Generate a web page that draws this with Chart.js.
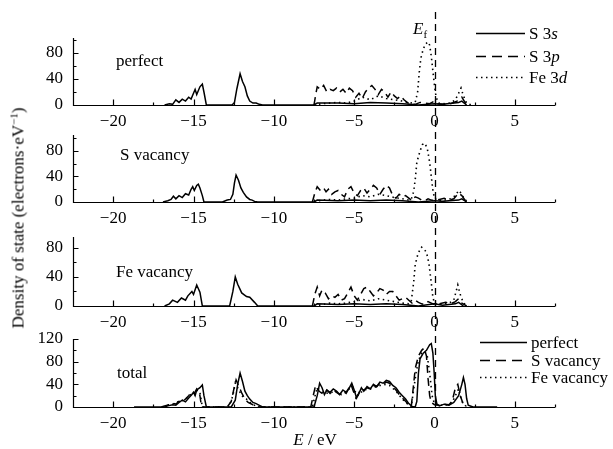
<!DOCTYPE html>
<html lang="en">
<head>
<meta charset="UTF-8">
<title>Density of states</title>
<script src="https://cdn.jsdelivr.net/npm/chart.js@4.4.1/dist/chart.umd.min.js"></script>
<style>
  body { margin: 0; background: #fff; }
  .wrap { position: relative; width: 613px; height: 449px; font-family: 'Liberation Serif', 'Times New Roman', serif; color: #000; }
  .wrap canvas { position: absolute; left: 0; top: 0; }
  .txt { position: absolute; font-size: 17px; line-height: 1; white-space: nowrap; transform: translateY(-50%); }
  .leg { position: absolute; display: flex; align-items: center; font-size: 17px; line-height: 1; white-space: nowrap; transform: translateY(-50%); }
  .leg svg { margin-right: 3px; }
  .ytitle { position: absolute; left: 18px; top: 218px; font-size: 17px; font-weight: normal; white-space: nowrap; transform: translate(-50%, -50%) rotate(-90deg); }
  .xtitle { position: absolute; left: 315px; top: 440px; font-size: 17px; white-space: nowrap; transform: translate(-50%, -50%); }
  sub { font-size: 11px; vertical-align: -4px; }
  sup { font-size: 11px; vertical-align: 6px; }
</style>
</head>
<body>
<div class="wrap">
  <canvas id="p1" width="613" height="449"></canvas>
  <canvas id="p2" width="613" height="449"></canvas>
  <canvas id="p3" width="613" height="449"></canvas>
  <canvas id="p4" width="613" height="449"></canvas>

  <div class="txt" style="left:116px;top:60px">perfect</div>
  <div class="txt" style="left:120px;top:154px">S vacancy</div>
  <div class="txt" style="left:116px;top:271px">Fe vacancy</div>
  <div class="txt" style="left:117px;top:372px">total</div>
  <div class="txt" style="left:413px;top:30px"><i>E</i><sub>f</sub></div>

  <div class="leg" style="left:476px;top:33px"><svg width="50" height="4"><line x1="0" y1="2" x2="49" y2="2" stroke="#000" stroke-width="1.5"/></svg>S 3<i>s</i></div>
  <div class="leg" style="left:476px;top:56px"><svg width="50" height="4"><line x1="0" y1="2" x2="49" y2="2" stroke="#000" stroke-width="1.5" stroke-dasharray="10 6"/></svg>S 3<i>p</i></div>
  <div class="leg" style="left:476px;top:77px"><svg width="50" height="4"><line x1="0" y1="2" x2="49" y2="2" stroke="#000" stroke-width="1.6" stroke-dasharray="1.5 3.5"/></svg>Fe 3<i>d</i></div>

  <div class="leg" style="left:480px;top:342px"><svg width="48" height="4"><line x1="0" y1="2" x2="47" y2="2" stroke="#000" stroke-width="1.5"/></svg>perfect</div>
  <div class="leg" style="left:480px;top:360px"><svg width="48" height="4"><line x1="0" y1="2" x2="47" y2="2" stroke="#000" stroke-width="1.5" stroke-dasharray="10 6"/></svg>S vacancy</div>
  <div class="leg" style="left:480px;top:377px"><svg width="48" height="4"><line x1="0" y1="2" x2="47" y2="2" stroke="#000" stroke-width="1.6" stroke-dasharray="1.5 3.5"/></svg>Fe vacancy</div>

  <div class="ytitle">Density of state (electrons·eV<sup>−1</sup>)</div>
  <div class="xtitle"><i>E</i> / eV</div>
</div>

<script>
// tick labels
const xTicks = [-20, -15, -10, -5, 0, 5];
const xMinorTicks = [-22.5, -17.5, -12.5, -7.5, -2.5, 2.5, 7.5];
const yTicks = [0, 40, 80];
const yTicksTotal = [0, 40, 80, 120];
const yMinorTicks = [20, 60, 100];

// perfect
const pfS3sE = [-16.8,-16.5,-16.3,-16.1,-15.9,-15.7,-15.5,-15.3,-15.15,-15.0,-14.9,-14.8,-14.6,-14.45,-14.35,-14.2,-12.6,-12.45,-12.3,-12.1,-11.95,-11.8,-11.65,-11.5,-11.3,-11.1,-10.9,-10.7,-7.5,-7.3,-6.0,-5.0,-4.0,-3.0,-2.0,-1.5,-1.0,0,0.5,1.5,1.7,2.0];
const pfS3s  = [0,2,1,8,4,9,6,12,9,18,24,16,28,32,20,0,0,4,25,48,36,28,14,6,3,3,1,0,0,3,3,2,4,3,2,1,0,2,1,4,6,0];
const pfS3pE = [-7.5,-7.4,-7.3,-7.1,-6.9,-6.7,-6.5,-6.3,-6.1,-5.9,-5.7,-5.5,-5.3,-5.1,-4.9,-4.7,-4.5,-4.3,-4.1,-3.9,-3.7,-3.5,-3.3,-3.1,-2.9,-2.7,-2.5,-2.3,-2.1,-1.9,-1.7,-1.5,-1.2,-0.9,-0.6,-0.3,0,0.2,0.6,1.0,1.4,1.7,1.9,2.1];
const pfS3p  = [0,15,28,24,30,20,24,22,26,20,24,18,26,22,12,18,10,20,26,30,24,16,24,20,12,20,14,10,14,8,4,1,1,4,3,2,6,2,1,2,6,12,4,0];
const pfFe3dE = [-7.5,-7.0,-6.5,-6.0,-5.5,-5.0,-4.5,-4.0,-3.5,-3.0,-2.5,-2.0,-1.5,-1.2,-1.05,-0.95,-0.85,-0.7,-0.55,-0.4,-0.3,-0.2,-0.1,0,0.1,0.25,0.6,1.0,1.3,1.5,1.65,1.8,2.0,2.3];
const pfFe3d  = [0,2,3,4,3,6,12,8,14,10,8,6,3,4,20,50,72,86,94,97,92,75,52,30,12,3,2,3,8,18,26,14,3,0];

// S vacancy
const svS3sE = [-16.9,-16.6,-16.4,-16.25,-16.1,-15.9,-15.7,-15.5,-15.3,-15.15,-15.05,-14.95,-14.8,-14.7,-14.6,-14.45,-14.35,-13.2,-12.9,-12.7,-12.55,-12.45,-12.35,-12.2,-12.05,-11.9,-11.7,-11.5,-11.35,-11.2,-11.0,-7.5,-7.3,-6.0,-5.0,-4.0,-3.0,-2.0,-1.0,0,0.5,1.5,1.7,2.0];
const svS3s  = [0,2,4,9,5,10,7,13,11,20,24,18,26,28,22,10,0,0,3,4,12,30,42,34,22,15,8,4,3,1,0,0,3,2,3,2,3,2,0,2,1,3,5,0];
const svS3pE = [-7.6,-7.45,-7.3,-7.1,-6.9,-6.75,-6.6,-6.4,-6.2,-6.0,-5.8,-5.6,-5.4,-5.2,-5.0,-4.8,-4.6,-4.4,-4.2,-4.0,-3.8,-3.6,-3.4,-3.2,-3.0,-2.8,-2.6,-2.4,-2.2,-2.0,-1.8,-1.6,-1.4,-1.2,-1.0,-0.8,-0.6,-0.4,-0.2,0,0.3,0.6,0.9,1.2,1.5,1.7,1.9,2.2];
const svS3p  = [0,14,24,18,22,16,20,12,16,18,12,8,20,24,14,10,18,22,14,20,26,22,12,20,26,22,10,6,12,8,10,6,2,8,6,3,2,5,3,2,4,6,3,5,14,10,3,0];
const svFe3dE = [-7.5,-7.0,-6.5,-6.0,-5.5,-5.0,-4.5,-4.0,-3.5,-3.0,-2.5,-2.0,-1.6,-1.45,-1.3,-1.2,-1.1,-0.9,-0.75,-0.6,-0.45,-0.3,-0.2,-0.1,0,0.2,0.6,1.0,1.3,1.5,1.65,1.9,2.2];
const svFe3d  = [0,3,4,3,5,6,10,8,12,10,7,5,3,4,16,35,62,80,90,92,84,62,40,18,6,2,3,5,10,18,14,3,0];

// Fe vacancy
const fvS3sE = [-16.8,-16.5,-16.3,-16.0,-15.75,-15.5,-15.35,-15.1,-15.0,-14.8,-14.6,-14.45,-12.75,-12.55,-12.4,-12.25,-12.0,-11.7,-11.5,-11.2,-11.0,-7.5,-7.3,-6.0,-5.0,-4.0,-3.0,-2.0,-1.0,0,0.5,1.3,1.5,1.8];
const fvS3s  = [0,3,8,5,11,8,14,20,16,29,19,0,0,20,40,30,18,13,12,5,0,0,3,2,3,2,3,2,0,3,1,3,5,0];
const fvS3pE = [-7.6,-7.45,-7.3,-7.15,-7.0,-6.8,-6.6,-6.4,-6.2,-6.0,-5.8,-5.6,-5.4,-5.2,-5.0,-4.8,-4.6,-4.4,-4.2,-4.0,-3.8,-3.6,-3.4,-3.2,-3.0,-2.8,-2.6,-2.4,-2.2,-2.0,-1.8,-1.6,-1.4,-1.2,-1.0,-0.8,-0.6,-0.4,-0.2,0,0.3,0.7,1.0,1.3,1.5,1.7,2.0];
const fvS3p  = [0,16,26,14,22,18,10,14,12,16,8,10,18,26,14,8,16,24,26,20,14,18,24,22,16,20,20,14,8,10,12,8,4,8,5,3,2,6,4,2,3,5,3,6,10,4,0];
const fvFe3dE = [-7.5,-7.0,-6.5,-6.0,-5.5,-5.0,-4.5,-4.0,-3.5,-3.0,-2.5,-2.0,-1.6,-1.45,-1.3,-1.2,-1.05,-0.9,-0.8,-0.65,-0.5,-0.35,-0.2,-0.1,0,0.2,0.6,1.0,1.2,1.45,1.6,1.8,2.1];
const fvFe3d  = [0,2,4,3,4,6,9,7,10,8,6,4,3,6,32,57,70,78,81,78,74,59,32,12,4,2,3,5,8,29,16,4,0];

// total
const totPerfE = [-18.7,-16.8,-16.6,-16.3,-16.1,-15.9,-15.7,-15.5,-15.3,-15.1,-15.0,-14.9,-14.8,-14.6,-14.45,-14.35,-14.2,-12.65,-12.4,-12.25,-12.1,-11.95,-11.8,-11.65,-11.5,-11.3,-11.1,-10.9,-10.7,-7.5,-7.3,-7.15,-7.0,-6.85,-6.7,-6.5,-6.3,-6.1,-5.9,-5.7,-5.5,-5.3,-5.15,-5.0,-4.85,-4.7,-4.55,-4.4,-4.2,-4.0,-3.8,-3.6,-3.4,-3.2,-3.0,-2.8,-2.6,-2.4,-2.2,-2.0,-1.8,-1.6,-1.4,-1.2,-1.1,-1.0,-0.9,-0.7,-0.5,-0.3,-0.2,-0.1,-0.02,0.05,0.15,0.3,0.6,0.9,1.2,1.5,1.7,1.8,1.9,2.0,2.1,2.4,3.9];
const totPerf  = [0,0,2,4,3,8,12,9,16,22,26,20,30,34,39,20,0,0,12,40,60,45,28,20,14,8,6,3,0,0,20,42,34,22,30,26,32,28,22,30,26,34,42,30,16,24,34,28,36,32,40,36,44,42,47,45,38,34,26,20,14,6,1,0,10,60,85,95,100,110,112,95,60,20,5,2,5,3,8,20,40,52,40,15,3,0,0];
const totSvE = [-17.0,-16.8,-16.5,-16.3,-16.1,-15.9,-15.7,-15.5,-15.3,-15.1,-14.95,-14.8,-14.7,-14.6,-14.5,-12.9,-12.65,-12.5,-12.35,-12.2,-12.0,-11.8,-11.6,-11.3,-11.0,-7.7,-7.55,-7.4,-7.25,-7.1,-6.9,-6.7,-6.5,-6.3,-6.1,-5.9,-5.7,-5.5,-5.35,-5.2,-5.05,-4.9,-4.75,-4.6,-4.4,-4.2,-4.0,-3.8,-3.6,-3.4,-3.2,-3.0,-2.8,-2.6,-2.4,-2.2,-2.0,-1.8,-1.6,-1.45,-1.3,-1.2,-1.0,-0.8,-0.65,-0.5,-0.4,-0.3,-0.2,0,0.3,0.6,0.9,1.1,1.3,1.45,1.6,1.8,2.0];
const totSv  = [0,2,4,7,5,10,8,14,20,27,24,32,28,20,0,0,10,30,48,38,25,14,8,4,0,0,20,38,30,26,22,30,24,30,26,22,28,24,32,40,28,16,22,32,30,34,32,38,36,42,40,44,42,36,30,22,16,10,4,0,40,68,90,100,104,90,50,20,8,4,3,5,4,10,34,40,20,4,0];
const totFvE = [-16.9,-16.5,-16.2,-15.9,-15.6,-15.3,-15.1,-14.9,-14.75,-14.6,-14.45,-12.8,-12.55,-12.4,-12.25,-12.0,-11.7,-11.4,-11.0,-7.6,-7.45,-7.3,-7.0,-6.6,-6.2,-5.8,-5.4,-5.1,-4.8,-4.4,-4.0,-3.6,-3.2,-2.8,-2.4,-2.0,-1.7,-1.45,-1.3,-1.15,-1.0,-0.8,-0.6,-0.45,-0.3,-0.15,0,0.4,0.8,1.1,1.3,1.5,1.7,2.0];
const totFv  = [0,4,6,10,12,18,24,22,30,26,0,0,20,42,34,20,14,6,0,0,18,34,26,24,28,22,30,36,20,30,32,36,40,38,28,14,6,0,30,60,82,95,98,90,60,20,5,3,4,8,20,32,10,0];

const FONT = "'Liberation Serif', 'Times New Roman', serif";
const SOLID = { borderWidth: 1.5, borderDash: [] };
const DASHED = { borderWidth: 1.5, borderDash: [8, 5] };
const DOTTED = { borderWidth: 1.6, borderDash: [1.5, 3.5] };

function pts(E, D) {
    return E.map((e, i) => ({ x: e, y: D[i] }));
}

// axis lines and inward tick marks
const axesPlugin = {
    id: 'axes',
    afterDraw(chart) {
        const { ctx, chartArea: a, scales: { x, y } } = chart;
        const L = Math.round(a.left) + 0.5, B = Math.round(a.bottom) + 0.5;
        ctx.save();
        ctx.strokeStyle = '#000';
        ctx.lineWidth = 1.2;
        ctx.beginPath();
        ctx.moveTo(L, a.top);
        ctx.lineTo(L, B);
        ctx.lineTo(a.right, B);
        y.ticks.forEach(t => {
            const py = Math.round(y.getPixelForValue(t.value)) + 0.5;
            const len = t.major ? 5 : 3;
            ctx.moveTo(L, py);
            ctx.lineTo(L + len, py);
        });
        x.ticks.forEach(t => {
            const px = Math.round(x.getPixelForValue(t.value)) + 0.5;
            const len = xTicks.includes(t.value) ? 6 : 3;
            ctx.moveTo(px, B);
            ctx.lineTo(px, B - len);
        });
        ctx.stroke();
        ctx.restore();
    }
};

// dashed Fermi level line through all panels
const fermiPlugin = {
    id: 'fermi',
    afterDraw(chart, args, opts) {
        if (!opts.show) return;
        const { ctx, chartArea: a, scales: { x } } = chart;
        const px = Math.round(x.getPixelForValue(0)) + 0.5;
        ctx.save();
        ctx.strokeStyle = '#000';
        ctx.lineWidth = 1.3;
        ctx.setLineDash([7, 5]);
        ctx.beginPath();
        ctx.moveTo(px, opts.top);
        ctx.lineTo(px, a.bottom);
        ctx.stroke();
        ctx.restore();
    }
};

function fmt(v) {
    return v < 0 ? '\u2212' + Math.abs(v) : String(v);
}

function panel(id, top, bottom, ymax, major, minor, series, fermi) {
    new Chart(document.getElementById(id), {
        type: 'line',
        data: {
            datasets: series.map(s => Object.assign({
                data: pts(s[0], s[1]),
                borderColor: '#000',
                pointRadius: 0,
                tension: 0,
                fill: false
            }, s[2]))
        },
        options: {
            responsive: false,
            animation: false,
            devicePixelRatio: 1,
            layout: { padding: { left: 33, right: 58, top: top, bottom: 449 - bottom - 25 } },
            plugins: {
                legend: { display: false },
                tooltip: { enabled: false },
                fermi: { show: !!fermi, top: 12 }
            },
            scales: {
                x: {
                    type: 'linear',
                    min: -22.5,
                    max: 7.5,
                    grid: { display: false, drawTicks: false },
                    border: { display: false },
                    afterBuildTicks: s => {
                        s.ticks = xTicks.concat(xMinorTicks).sort((a, b) => a - b).map(v => ({ value: v }));
                    },
                    afterFit: s => { s.height = 25; },
                    ticks: {
                        autoSkip: false,
                        maxRotation: 0,
                        padding: 6,
                        color: '#000',
                        font: { family: FONT, size: 17 },
                        callback: v => xTicks.includes(v) ? fmt(v) : ''
                    }
                },
                y: {
                    min: 0,
                    max: ymax,
                    grid: { display: false, drawTicks: false },
                    border: { display: false },
                    afterBuildTicks: s => {
                        s.ticks = major.map(v => ({ value: v, major: true }))
                            .concat(minor.filter(v => v < ymax).map(v => ({ value: v, major: false })))
                            .sort((a, b) => a.value - b.value);
                    },
                    afterFit: s => { s.width = 40; },
                    ticks: {
                        autoSkip: false,
                        padding: 10,
                        color: '#000',
                        font: { family: FONT, size: 17 },
                        callback: v => major.includes(v) ? String(v) : ''
                    }
                }
            }
        },
        plugins: [axesPlugin, fermiPlugin]
    });
}

panel('p1', 38, 105, 103, yTicks, yMinorTicks, [
    [pfFe3dE, pfFe3d, DOTTED], [pfS3pE, pfS3p, DASHED], [pfS3sE, pfS3s, SOLID]
]);
panel('p2', 135, 202, 105, yTicks, yMinorTicks, [
    [svFe3dE, svFe3d, DOTTED], [svS3pE, svS3p, DASHED], [svS3sE, svS3s, SOLID]
]);
panel('p3', 237, 306, 95, yTicks, yMinorTicks, [
    [fvFe3dE, fvFe3d, DOTTED], [fvS3pE, fvS3p, DASHED], [fvS3sE, fvS3s, SOLID]
]);
panel('p4', 339, 407, 120, yTicksTotal, yMinorTicks, [
    [totFvE, totFv, DOTTED], [totSvE, totSv, DASHED], [totPerfE, totPerf, SOLID]
], true);
</script>
</body>
</html>
